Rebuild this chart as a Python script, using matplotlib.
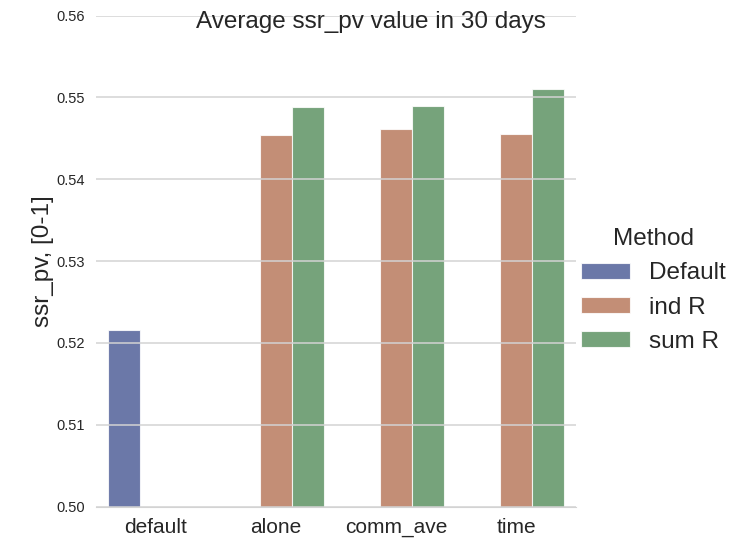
import numpy as np
import matplotlib
matplotlib.use("Agg")
import matplotlib.pyplot as plt
import seaborn as sns

sns.set_style("whitegrid")
plt.rcParams['font.family'] = ['Arial', 'Liberation Sans', 'DejaVu Sans']

categories = ['default', 'alone', 'comm_ave', 'time']
methods = ['Default', 'ind R', 'sum R']
values = {
    'Default': [0.5216, np.nan, np.nan, np.nan],
    'ind R':   [np.nan, 0.5454, 0.5462, 0.5455],
    'sum R':   [np.nan, 0.5488, 0.5489, 0.5510],
}
colors = ['#465692', '#b47254', '#548c5a']

fig = plt.figure(figsize=(7.53, 5.40), dpi=100)
ax = fig.add_axes([0.127, 0.062, 0.638, 0.909])

x = np.arange(len(categories))
w = 0.8 / len(methods)
for i, m in enumerate(methods):
    ax.bar(x - 0.4 + w * (i + 0.5), values[m], width=w, color=colors[i],
           alpha=0.8, edgecolor='white', linewidth=0.8, label=m, zorder=1)

ax.set_xlim(-0.5, 3.5)
ax.set_ylim(0.50, 0.56)
ax.set_yticks(np.arange(0.50, 0.5601, 0.01))
ax.set_xticks(x)
ax.set_xticklabels(categories, fontsize=15)
ax.tick_params(axis='y', labelsize=10.5, pad=4)
ax.tick_params(axis='x', pad=5)
ax.set_ylabel('ssr_pv, [0-1]', fontsize=17.5, labelpad=2)
ax.grid(axis='x', visible=False)
ax.grid(axis='y', color='#d3d3d3', linewidth=1.1, zorder=2)
ax.set_axisbelow(False)
for s in ['left', 'right', 'top']:
    ax.spines[s].set_visible(False)
ax.spines['bottom'].set_color('#d3d3d3')

fig.suptitle('Average ssr_pv value in 30 days', fontsize=17.5, x=0.493, y=0.98)

leg = ax.legend(title='Method', loc='center left', bbox_to_anchor=(0.99, 0.44),
                frameon=False, fontsize=17.5, title_fontsize=17.5,
                handlelength=2.0, handleheight=0.66, handletextpad=0.8,
                labelspacing=0.5, borderaxespad=0.0)

fig.savefig('out.png', dpi=100)
